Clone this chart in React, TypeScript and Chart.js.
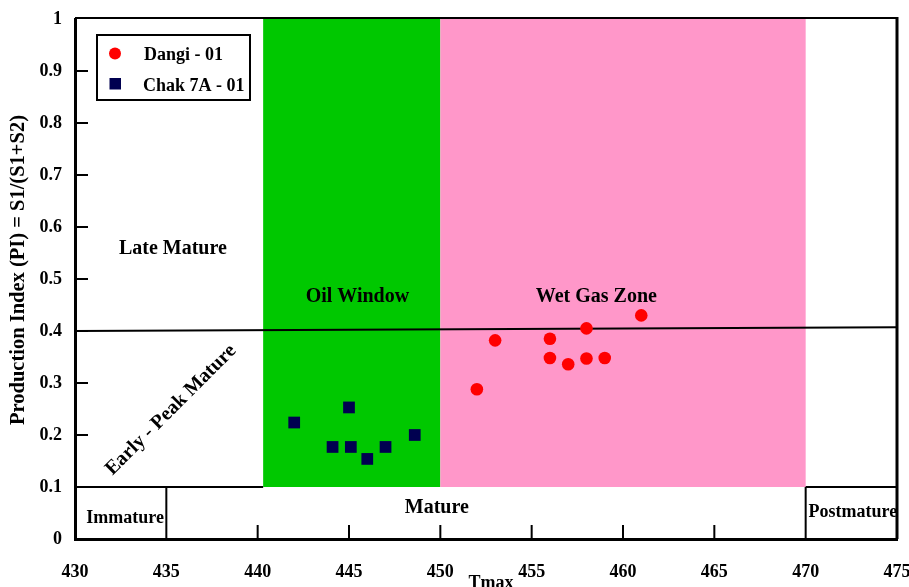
import React, { useEffect, useRef } from "react";
import { Chart, registerables } from "chart.js";
Chart.register(...registerables);

// ---- data ----
const seriesNames = ["Dangi - 01", "Chak 7A - 01"];
const dangiTmax = [461, 458, 453, 456, 456, 457, 458, 459, 452];
const dangiPI = [0.43, 0.405, 0.382, 0.385, 0.348, 0.336, 0.347, 0.348, 0.288];
const chakTmax = [442, 445, 444.1, 445.1, 446, 447, 448.6];
const chakPI = [0.224, 0.253, 0.177, 0.177, 0.154, 0.177, 0.2];

const xTicks = [430, 435, 440, 445, 450, 455, 460, 465, 470, 475];
const yTicks = [0, 0.1, 0.2, 0.3, 0.4, 0.5, 0.6, 0.7, 0.8, 0.9, 1];
const yTickLabels = ["0", "0.1", "0.2", "0.3", "0.4", "0.5", "0.6", "0.7", "0.8", "0.9", "1"];

// zones
const oilWindowTmax = [440.3, 450];
const wetGasTmax = [450, 470];
const zonePI = [0.1, 1];
const boundaryTmax = [430, 475];
const boundaryPI = [0.4, 0.407];
const maturityTmax = [435, 470];
const maturityPI = [0, 0.1];

const zoneLabels = [
  { text: "Late Mature", x: 435.36, y: 0.548, size: 20, rot: 0 },
  { text: "Oil Window", x: 445.46, y: 0.456, size: 20, rot: 0 },
  { text: "Wet Gas Zone", x: 458.54, y: 0.456, size: 20, rot: 0 },
  { text: "Mature", x: 449.81, y: 0.05, size: 20, rot: 0 },
  { text: "Immature", x: 432.74, y: 0.031, size: 18, rot: 0 },
  { text: "Postmature", x: 472.58, y: 0.042, size: 18, rot: 0 },
  { text: "Early - Peak Mature", x: 435.25, y: 0.248, size: 20, rot: -45 },
];

const FONT = "'Liberation Serif', 'Times New Roman', serif";
const RED = "#ff0000";
const NAVY = "#000050";
const GREEN = "#00c800";
const PINK = "#ff97c9";

const zonesPlugin = {
  id: "zones",
  beforeDatasetsDraw(chart: any) {
    const { ctx, scales } = chart;
    const x = scales.x, y = scales.y;
    const px = (v: number) => x.getPixelForValue(v);
    const py = (v: number) => y.getPixelForValue(v);
    ctx.save();
    ctx.fillStyle = GREEN;
    ctx.fillRect(px(oilWindowTmax[0]), py(zonePI[1]), px(oilWindowTmax[1]) - px(oilWindowTmax[0]), py(zonePI[0]) - py(zonePI[1]));
    ctx.fillStyle = PINK;
    ctx.fillRect(px(wetGasTmax[0]), py(zonePI[1]), px(wetGasTmax[1]) - px(wetGasTmax[0]), py(zonePI[0]) - py(zonePI[1]));

    ctx.strokeStyle = "#000";
    ctx.lineWidth = 2;
    ctx.beginPath();
    ctx.moveTo(px(boundaryTmax[0]), py(zonePI[0]));
    ctx.lineTo(px(oilWindowTmax[0]), py(zonePI[0]));
    ctx.moveTo(px(wetGasTmax[1]), py(zonePI[0]));
    ctx.lineTo(px(boundaryTmax[1]), py(zonePI[0]));
    maturityTmax.forEach((t) => {
      ctx.moveTo(px(t), py(maturityPI[0]));
      ctx.lineTo(px(t), py(maturityPI[1]));
    });
    xTicks.forEach((t) => {
      if (t > xTicks[0] && t < xTicks[xTicks.length - 1]) {
        ctx.moveTo(px(t), y.bottom);
        ctx.lineTo(px(t), y.bottom - 14);
      }
    });
    yTicks.forEach((t) => {
      if (t > yTicks[0] && t < yTicks[yTicks.length - 1]) {
        ctx.moveTo(x.left, py(t));
        ctx.lineTo(x.left + 13, py(t));
      }
    });
    ctx.stroke();

    ctx.lineWidth = 2;
    ctx.beginPath();
    ctx.moveTo(x.left, y.top - 1);
    ctx.lineTo(x.right, y.top - 1);
    ctx.stroke();
    ctx.lineWidth = 3;
    ctx.beginPath();
    ctx.moveTo(x.right, y.top - 2);
    ctx.lineTo(x.right, y.bottom);
    ctx.stroke();

    ctx.fillStyle = "#000";
    zoneLabels.forEach((l) => {
      ctx.save();
      ctx.font = `bold ${l.size}px ${FONT}`;
      ctx.translate(px(l.x), py(l.y));
      ctx.textAlign = "center";
      if (l.rot) {
        ctx.rotate((l.rot * Math.PI) / 180);
        ctx.textBaseline = "middle";
      } else {
        ctx.textBaseline = "alphabetic";
      }
      ctx.fillText(l.text, 0, 0);
      ctx.restore();
    });
    ctx.restore();
  },
  afterDraw(chart: any) {
    const { ctx, chartArea } = chart;
    ctx.save();
    ctx.fillStyle = "#000";
    ctx.font = `bold 20.5px ${FONT}`;
    ctx.textAlign = "center";
    ctx.textBaseline = "middle";
    ctx.save();
    ctx.translate(19, 270);
    ctx.rotate(-Math.PI / 2);
    ctx.fillText("Production Index (PI) = S1/(S1+S2)", 0, 0);
    ctx.restore();
    ctx.font = `bold 18px ${FONT}`;
    ctx.textBaseline = "alphabetic";
    ctx.fillText("Tmax", 491, 588);

    const lx = chartArea.left + 22, ly = chartArea.top + 16;
    ctx.strokeStyle = "#000";
    ctx.lineWidth = 2;
    ctx.strokeRect(lx, ly, 153, 65);
    const ds = chart.data.datasets;
    ctx.fillStyle = ds[0].backgroundColor;
    ctx.beginPath();
    ctx.arc(lx + 18, ly + 18.5, 6, 0, Math.PI * 2);
    ctx.fill();
    ctx.fillStyle = ds[1].backgroundColor;
    ctx.fillRect(lx + 12.5, ly + 43, 11.5, 11.5);
    ctx.fillStyle = "#000";
    ctx.font = `bold 18px ${FONT}`;
    ctx.textAlign = "left";
    ctx.fillText(seriesNames[0], lx + 47, ly + 25);
    ctx.fillText(seriesNames[1], lx + 46, ly + 56);
    ctx.restore();
  },
};

export default function App() {
  const ref = useRef<HTMLCanvasElement>(null);
  useEffect(() => {
    if (!ref.current) return;
    const chart = new Chart(ref.current, {
      type: "scatter",
      data: {
        datasets: [
          {
            label: seriesNames[0],
            data: dangiTmax.map((t, i) => ({ x: t, y: dangiPI[i] })),
            backgroundColor: RED,
            borderColor: RED,
            pointStyle: "circle",
            pointRadius: 6.3,
            borderWidth: 0,
            order: 0,
          },
          {
            label: seriesNames[1],
            data: chakTmax.map((t, i) => ({ x: t, y: chakPI[i] })),
            backgroundColor: NAVY,
            borderColor: NAVY,
            pointStyle: "rect",
            pointRadius: 8.3,
            borderWidth: 0,
            order: 1,
          },
          {
            type: "line",
            label: "boundary",
            data: boundaryTmax.map((t, i) => ({ x: t, y: boundaryPI[i] })),
            borderColor: "#000",
            borderWidth: 2,
            pointRadius: 0,
            showLine: true,
            fill: false,
            order: 2,
          } as any,
        ],
      },
      options: {
        responsive: false,
        animation: false,
        layout: { padding: { left: 0, top: 19, right: 12, bottom: 0 } },
        plugins: { legend: { display: false }, tooltip: { enabled: false }, title: { display: false } },
        scales: {
          x: {
            type: "linear",
            min: 430,
            max: 475,
            afterBuildTicks: (s: any) => { s.ticks = xTicks.map((v) => ({ value: v })); },
            afterFit: (s: any) => { s.height = 48; s.paddingLeft = 0; s.paddingRight = 0; },
            grid: { display: false, drawTicks: false },
            border: { display: true, width: 3, color: "#000" },
            ticks: {
              color: "#000",
              font: { family: FONT, size: 18, weight: "bold" },
              padding: 23,
              maxRotation: 0,
              autoSkip: false,
            },
          },
          y: {
            type: "linear",
            min: 0,
            max: 1,
            afterBuildTicks: (s: any) => { s.ticks = yTicks.map((v) => ({ value: v })); },
            afterFit: (s: any) => { s.width = 75; s.paddingTop = 0; s.paddingBottom = 0; },
            grid: { display: false, drawTicks: false },
            border: { display: true, width: 3, color: "#000" },
            ticks: {
              color: "#000",
              font: { family: FONT, size: 18, weight: "bold" },
              padding: 13,
              autoSkip: false,
              callback: (_v: any, i: number) => yTickLabels[i],
            },
          },
        },
      },
      plugins: [zonesPlugin],
    });
    return () => chart.destroy();
  }, []);
  return (
    <div style={{ position: "fixed", left: 0, top: 0, width: 909, height: 587, background: "#fff" }}>
      <canvas ref={ref} width={909} height={587} style={{ display: "block" }} />
    </div>
  );
}
